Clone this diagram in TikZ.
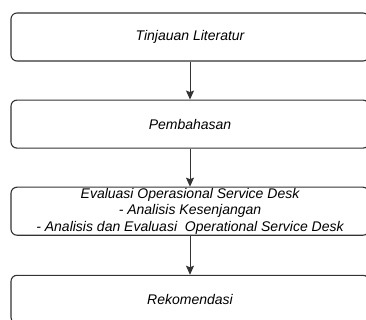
\documentclass[tikz,border=0pt]{standalone}
\usepackage{fontspec}
\setmainfont{Liberation Sans}
\usepackage{xcolor}
\definecolor{cLine}{HTML}{333333}
\usetikzlibrary{positioning,arrows.meta}
\tikzset{
  node-step/.style={draw=cLine,line width=1.1pt,rounded corners=6pt,
    minimum height=48pt,minimum width=358pt,inner sep=0pt,align=center,
    font=\itshape\fontsize{14}{16.5}\selectfont},
  arrow/.style={-{Stealth[length=9pt,width=8pt,inset=1.5pt]},line width=0.9pt,draw=cLine},
}

\begin{document}
\begin{tikzpicture}[node distance=38pt]
  \clip (0pt,0pt) rectangle (366pt,-320pt);
  \node[node-step] (tinjauan) at (190pt,-37pt) {Tinjauan Literatur};
  \node[node-step,below=of tinjauan] (bahas) {Pembahasan};
  \node[node-step,below=of bahas] (evaluasi) {Evaluasi Operasional Service Desk\\
    - Analisis Kesenjangan\\
    - Analisis dan Evaluasi\ \ Operational Service Desk};
  \node[node-step,below=39pt of evaluasi] (rekom) {Rekomendasi};
  \draw[arrow] (tinjauan) -- (bahas);
  \draw[arrow] (bahas) -- (evaluasi);
  \draw[arrow] (evaluasi) -- (rekom);
\end{tikzpicture}
\end{document}
